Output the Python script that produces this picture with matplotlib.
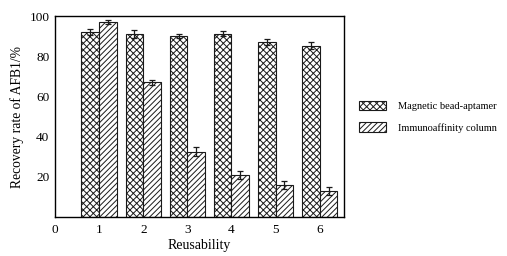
import matplotlib
matplotlib.use("Agg")
import matplotlib.pyplot as plt
import numpy as np

plt.rcParams['font.family'] = ['Liberation Serif', 'DejaVu Serif']
plt.rcParams['hatch.linewidth'] = 0.7

# data
reuse = [1, 2, 3, 4, 5, 6]
magnetic = [92, 91, 90, 91.3, 87.3, 85.3]
magnetic_err = [1.5, 2.0, 1.0, 1.3, 1.5, 1.6]
immuno = [97.3, 67, 32.5, 20.8, 15.8, 12.8]
immuno_err = [1.0, 1.3, 2.2, 2.0, 2.0, 2.0]

fig = plt.figure(figsize=(5.07, 2.56), dpi=100)
ax = fig.add_axes([0.1085, 0.152, 0.570, 0.785])

x = np.array(reuse)
w = 0.4
ax.bar(x - w / 2, magnetic, w, yerr=magnetic_err, color='white', edgecolor='#1a1a1a',
       hatch='xxxxx', linewidth=0.8, label='Magnetic bead-aptamer',
       error_kw=dict(ecolor='#1a1a1a', elinewidth=0.9, capsize=2.5, capthick=0.9))
ax.bar(x + w / 2, immuno, w, yerr=immuno_err, color='white', edgecolor='#1a1a1a',
       hatch='//////', linewidth=0.8, label='Immunoaffinity column',
       error_kw=dict(ecolor='#1a1a1a', elinewidth=0.9, capsize=2.5, capthick=0.9))

ax.set_xlim(0, 6.55)
ax.set_ylim(0, 100)
ax.set_xticks([0, 1, 2, 3, 4, 5, 6])
ax.set_yticks([20, 40, 60, 80, 100])
ax.tick_params(axis='both', length=0, labelsize=9.5, pad=4)
ax.tick_params(axis='x', pad=5)
for s in ax.spines.values():
    s.set_linewidth(1.0)

ax.set_xlabel('Reusability', fontsize=10, labelpad=2)
ax.set_ylabel('Recovery rate of AFB1/%', fontsize=9.8, labelpad=4)

ax.legend(loc='center left', bbox_to_anchor=(1.02, 0.50), frameon=False, fontsize=7.5,
          handlelength=2.6, handleheight=1.0, handletextpad=1.1, labelspacing=1.1)

fig.savefig('out.png', dpi=100)
